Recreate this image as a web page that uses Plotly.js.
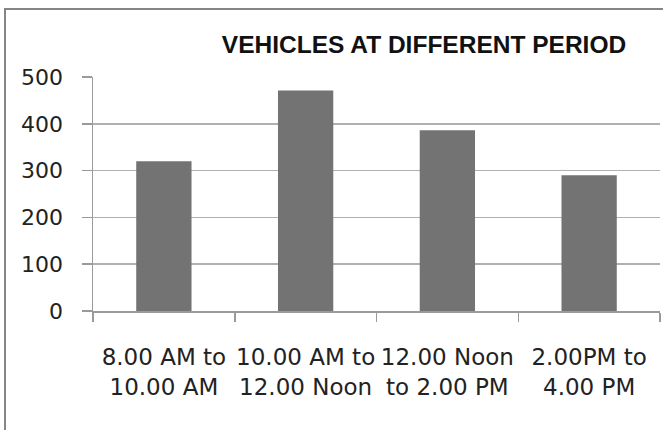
<!DOCTYPE html>
<html>
<head>
<meta charset="utf-8">
<script src="https://cdn.plot.ly/plotly-3.0.1.min.js"></script>
<style>
  html, body { margin: 0; padding: 0; background: #fff; }
  #wrap { position: relative; width: 663px; height: 430px; overflow: hidden; }
  #chart { width: 663px; height: 430px; }
  #frame {
    position: absolute; left: 4px; top: 8px; width: 700px; height: 500px;
    border-left: 2px solid #858585; border-top: 2px solid #858585;
    pointer-events: none; z-index: 5;
  }
</style>
</head>
<body>
<div id="wrap">
  <div id="chart"></div>
  <div id="frame"></div>
</div>
<script>
const categories = [
  "8.00 AM to<br>10.00 AM",
  "10.00 AM to<br>12.00 Noon",
  "12.00 Noon<br>to 2.00 PM",
  "2.00PM to<br>4.00 PM"
];
const vehicles = [320, 471, 386, 290];
const yTicks = [0, 100, 200, 300, 400, 500];
const chartTitle = "VEHICLES AT DIFFERENT PERIOD";

const W = 663, H = 430;
const L = 93, R = 3, T = 77, B = 119;
const pw = W - L - R, ph = H - T - B;

const trace = {
  type: "bar",
  x: categories,
  y: vehicles,
  marker: { color: "#737373", line: { width: 0 } },
  hoverinfo: "skip"
};

const layout = {
  width: W,
  height: H,
  margin: { l: L, r: R, t: T, b: B, pad: 0 },
  paper_bgcolor: "#ffffff",
  plot_bgcolor: "#ffffff",
  bargap: 0.61,
  showlegend: false,
  title: {
    text: chartTitle,
    font: { family: "Liberation Sans, Arial, sans-serif", size: 24.5, color: "#111", weight: "bold" },
    xref: "paper",
    x: (424 - L) / pw,
    xanchor: "center",
    yref: "container",
    y: 1 - 44 / H,
    yanchor: "middle"
  },
  xaxis: {
    type: "category",
    showgrid: false,
    showline: true,
    linecolor: "#9a9a9a",
    linewidth: 1.5,
    ticks: "outside",
    tickson: "boundaries",
    ticklen: 9,
    tickcolor: "#9a9a9a",
    tickwidth: 1.5,
    tickangle: 0,
    tickfont: { family: "DejaVu Sans, sans-serif", size: 23, color: "#222" },
    ticklabelstandoff: 25,
    zeroline: false,
    fixedrange: true
  },
  yaxis: {
    range: [0, 500],
    tickmode: "array",
    tickvals: yTicks,
    ticktext: yTicks.map(String),
    showgrid: true,
    gridcolor: "#b0b0b0",
    gridwidth: 1.5,
    showline: true,
    linecolor: "#9a9a9a",
    linewidth: 1.5,
    ticks: "outside",
    ticklen: 10,
    tickcolor: "#9a9a9a",
    tickwidth: 1.5,
    tickfont: { family: "DejaVu Sans, sans-serif", size: 22, color: "#222" },
    ticklabelstandoff: 14,
    zeroline: false,
    fixedrange: true
  }
};

Plotly.newPlot("chart", [trace], layout, { displayModeBar: false, staticPlot: true });
</script>
</body>
</html>
